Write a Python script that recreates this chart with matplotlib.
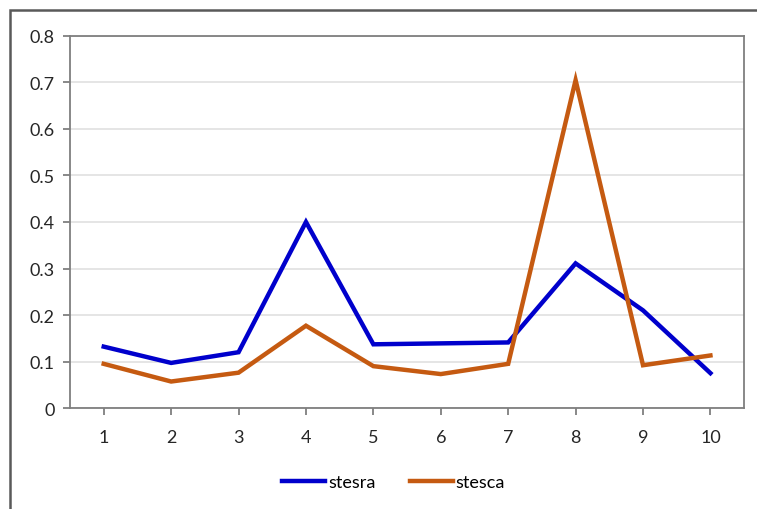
import matplotlib.pyplot as plt
from matplotlib.patches import Rectangle

# Series values per category
categories = [1, 2, 3, 4, 5, 6, 7, 8, 9, 10]
stesra = [0.132, 0.097, 0.120, 0.400, 0.137, 0.139, 0.141, 0.311, 0.210, 0.075]
stesca = [0.095, 0.057, 0.076, 0.177, 0.090, 0.073, 0.095, 0.705, 0.092, 0.113]
y_ticks = [0, 0.1, 0.2, 0.3, 0.4, 0.5, 0.6, 0.7, 0.8]
y_labels = ['0', '0.1', '0.2', '0.3', '0.4', '0.5', '0.6', '0.7', '0.8']

plt.rcParams['font.family'] = ['Lato', 'DejaVu Sans']

fig = plt.figure(figsize=(7.57, 5.10), dpi=100)
ax = fig.add_axes([0.0925, 0.198, 0.8905, 0.7295])

# chart area border (runs off the right and bottom edges)
fig.patches.append(Rectangle((10 / 757, -0.2), 1.2, 0.2 + 1 - 11 / 510,
                             transform=fig.transFigure, fill=False,
                             edgecolor='#595959', linewidth=1.8))

ax.plot(categories, stesra, color='#0000CC', linewidth=3.2, label='stesra',
        solid_joinstyle='miter')
ax.plot(categories, stesca, color='#C55A11', linewidth=3.2, label='stesca',
        solid_joinstyle='miter')

ax.set_xlim(0.5, 10.5)
ax.set_ylim(0, 0.8)
ax.set_xticks(categories)
ax.set_xticklabels([str(c) for c in categories])
ax.set_yticks(y_ticks)
ax.set_yticklabels(y_labels)
ax.yaxis.grid(True, color='#E3E3E3', linewidth=1.3)
ax.set_axisbelow(True)

for side in ['left', 'right', 'top', 'bottom']:
    ax.spines[side].set_color('#7F7F7F')
    ax.spines[side].set_linewidth(1.3)

ax.tick_params(axis='both', colors='#7F7F7F', length=5, width=1.3,
               labelsize=13, labelcolor='#262626')
ax.tick_params(axis='x', pad=10)
ax.tick_params(axis='y', pad=6)

fig.legend(loc='center', bbox_to_anchor=(0.52, 1 - 483 / 510), ncol=2,
           frameon=False, fontsize=13, handlelength=2.4,
           handletextpad=0.15, columnspacing=1.9)

plt.savefig('out.png', dpi=100)
